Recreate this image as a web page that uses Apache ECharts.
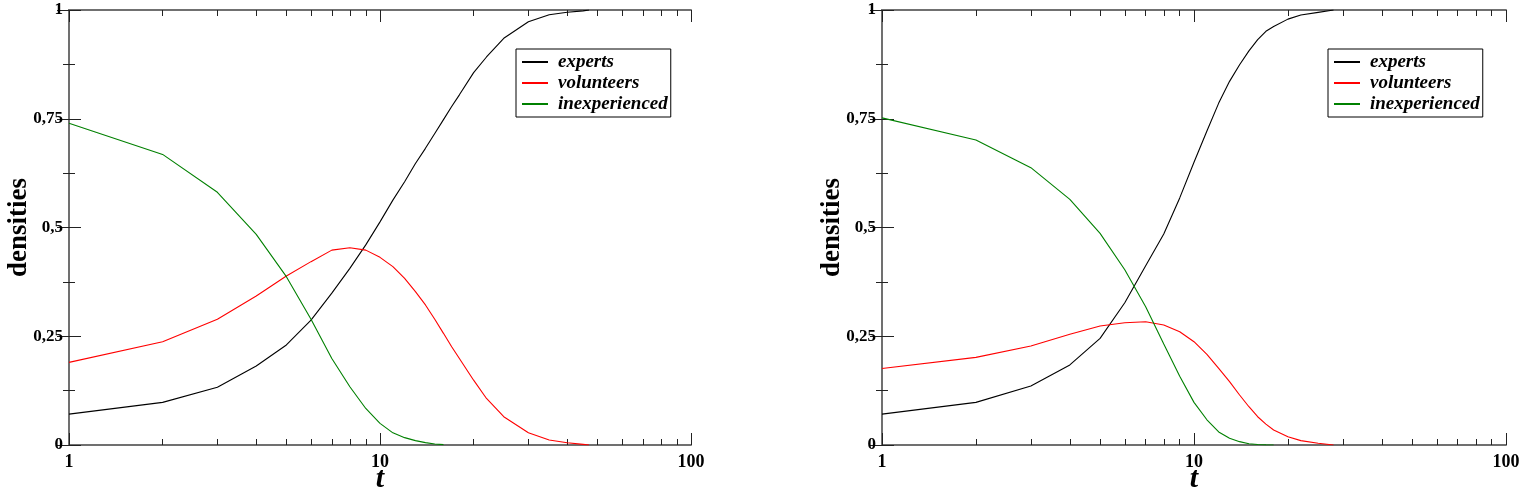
<!DOCTYPE html>
<html>
<head>
<meta charset="utf-8">
<script src="https://cdn.jsdelivr.net/npm/echarts@6/dist/echarts.min.js"></script>
<style>
html,body{margin:0;padding:0;background:#fff;}
#chart{width:1526px;height:491px;}
</style>
</head>
<body>
<div id="chart"></div>
<script>
// ---- data ----
const seriesNames = ['experts', 'volunteers', 'inexperienced'];
const seriesColors = ['#000000', '#ff0000', '#008000'];
const xMajorTicks = [1, 10, 100];
const xMinorTicks = [2, 3, 4, 5, 6, 7, 8, 9, 20, 30, 40, 50, 60, 70, 80, 90];
const yTicks = [0, 0.25, 0.5, 0.75, 1];

// left panel
const tLeft = [1, 2, 3, 4, 5, 6, 7, 8, 9, 10, 11, 12, 13, 14, 15, 16, 17, 18, 20, 22, 25, 30, 35, 40, 45, 47];
const expertsLeft = [0.071, 0.098, 0.1326, 0.1816, 0.23, 0.287, 0.349, 0.406, 0.46, 0.513, 0.563, 0.605, 0.647, 0.682, 0.716, 0.748, 0.778, 0.805, 0.856, 0.892, 0.935, 0.973, 0.989, 0.995, 0.998, 1.0];
const volunteersLeft = [0.19, 0.2375, 0.289, 0.3425, 0.3885, 0.4215, 0.448, 0.4536, 0.448, 0.4314, 0.41, 0.383, 0.3525, 0.322, 0.289, 0.2567, 0.226, 0.199, 0.149, 0.107, 0.065, 0.028, 0.0115, 0.005, 0.0015, 0.0];
const tLeftGreen = [1, 2, 3, 4, 5, 6, 7, 8, 9, 10, 11, 12, 13, 14, 15, 16];
const inexperiencedLeft = [0.7395, 0.668, 0.581, 0.4843, 0.387, 0.289, 0.199, 0.134, 0.084, 0.0498, 0.028, 0.0169, 0.01, 0.0054, 0.0023, 0.0008];

// right panel
const tRight = [1, 2, 3, 4, 5, 6, 7, 8, 9, 10, 11, 12, 13, 14, 15, 16, 17, 18, 20, 22, 25, 28];
const expertsRight = [0.071, 0.098, 0.1356, 0.184, 0.245, 0.327, 0.412, 0.485, 0.568, 0.65, 0.722, 0.786, 0.836, 0.874, 0.906, 0.932, 0.951, 0.962, 0.979, 0.9885, 0.9946, 1.0];
const volunteersRight = [0.176, 0.2015, 0.2276, 0.2544, 0.2736, 0.281, 0.2835, 0.276, 0.2605, 0.2375, 0.2084, 0.176, 0.1456, 0.115, 0.088, 0.065, 0.048, 0.0345, 0.019, 0.01, 0.004, 0.0];
const tRightGreen = [1, 2, 3, 4, 5, 6, 7, 8, 9, 10, 11, 12, 13, 14, 15, 16, 17, 18];
const inexperiencedRight = [0.752, 0.701, 0.6375, 0.5648, 0.4866, 0.403, 0.318, 0.232, 0.158, 0.098, 0.058, 0.03, 0.0153, 0.0077, 0.003, 0.0012, 0.0004, 0.0];

// ---- build options ----
const FONT = '"Liberation Serif", "DejaVu Serif", serif';
const AXIS_COLOR = '#707070';
const TICK_COLOR = '#222';

function pairs(xs, ys) { return xs.map((x, i) => [x, ys[i]]); }

const grids = [
  { left: 69, top: 10, width: 622, height: 435, containLabel: false, outerBoundsMode: 'none' },
  { left: 882, top: 10, width: 624, height: 435, containLabel: false, outerBoundsMode: 'none' }
];

// minor tick positions expressed on a helper linear axis running over log10(t) in [0, 2]
const xMinorTickExp = xMinorTicks.map(v => Math.log10(v));

const xAxes = [];
const yAxes = [];
grids.forEach((g, gi) => {
  const logBase = {
    type: 'log', logBase: 10, min: 1, max: 100, gridIndex: gi,
    axisLine: { show: true, lineStyle: { color: AXIS_COLOR, width: 2 } },
    splitLine: { show: false }, minorTick: { show: false }
  };
  const helper = {
    type: 'value', min: 0, max: 2, interval: 1, gridIndex: gi,
    axisLine: { show: false }, splitLine: { show: false }, minorTick: { show: false },
    axisLabel: { show: false },
    axisTick: { show: true, inside: true, length: 6, customValues: xMinorTickExp, lineStyle: { color: TICK_COLOR, width: 1 } }
  };
  // bottom major (labels)
  xAxes.push(Object.assign({}, logBase, {
    position: 'bottom',
    name: 't', nameLocation: 'middle', nameGap: 19, nameMoveOverlap: false,
    nameTextStyle: { fontFamily: FONT, fontWeight: 'bold', fontStyle: 'italic', fontSize: 30, color: '#000' },
    axisTick: { show: true, inside: true, length: 12, lineStyle: { color: TICK_COLOR, width: 1 } },
    axisLabel: { show: true, margin: 8, fontFamily: FONT, fontWeight: 'bold', fontSize: 18, color: '#000' }
  }));
  xAxes.push(Object.assign({}, helper, { position: 'bottom' }));
  // top major
  xAxes.push(Object.assign({}, logBase, {
    position: 'top',
    axisTick: { show: true, inside: true, length: 12, lineStyle: { color: TICK_COLOR, width: 1 } },
    axisLabel: { show: false }
  }));
  xAxes.push(Object.assign({}, helper, { position: 'top' }));

  const ybase = {
    type: 'value', min: 0, max: 1, interval: 0.25, gridIndex: gi,
    axisLine: { show: true, lineStyle: { color: AXIS_COLOR, width: 2 } },
    axisTick: { show: true, inside: true, length: 12, lineStyle: { color: TICK_COLOR, width: 1 } },
    minorTick: { show: true, splitNumber: 2, length: 6, lineStyle: { color: TICK_COLOR, width: 1 } },
    splitLine: { show: false }, minorSplitLine: { show: false }
  };
  yAxes.push(Object.assign({}, ybase, {
    position: 'left',
    name: 'densities', nameLocation: 'middle', nameGap: 36, nameMoveOverlap: false,
    nameTextStyle: { fontFamily: FONT, fontWeight: 'bold', fontSize: 27, color: '#000' },
    axisLabel: {
      show: true, margin: 6, fontFamily: FONT, fontWeight: 'bold', fontSize: 17, color: '#000',
      customValues: yTicks,
      formatter: v => String(v).replace('.', ',')
    }
  }));
  yAxes.push(Object.assign({}, ybase, {
    position: 'right', axisLabel: { show: false }
  }));
});

function lineSeries(name, color, data, gi) {
  return {
    type: 'line', name: name, data: data,
    xAxisIndex: gi * 4, yAxisIndex: gi * 2,
    showSymbol: false, symbol: 'none', smooth: false,
    lineStyle: { color: color, width: 1.1 },
    itemStyle: { color: color },
    animation: false, silent: true
  };
}

const series = [
  lineSeries(seriesNames[0], seriesColors[0], pairs(tLeft, expertsLeft), 0),
  lineSeries(seriesNames[1], seriesColors[1], pairs(tLeft, volunteersLeft), 0),
  lineSeries(seriesNames[2], seriesColors[2], pairs(tLeftGreen, inexperiencedLeft), 0),
  lineSeries(seriesNames[0], seriesColors[0], pairs(tRight, expertsRight), 1),
  lineSeries(seriesNames[1], seriesColors[1], pairs(tRight, volunteersRight), 1),
  lineSeries(seriesNames[2], seriesColors[2], pairs(tRightGreen, inexperiencedRight), 1)
];

function legendAt(left) {
  return {
    data: seriesNames, orient: 'vertical', left: left, top: 49,
    backgroundColor: '#fff', borderColor: '#000', borderWidth: 1,
    padding: [3, 3, 3, 6], itemGap: 1, itemWidth: 26, itemHeight: 2, icon: 'rect',
    selectedMode: false,
    textStyle: { fontFamily: FONT, fontWeight: 'bold', fontStyle: 'italic', fontSize: 19, color: '#000', lineHeight: 20, padding: [0, 0, 0, 5] }
  };
}

const option = {
  animation: false,
  backgroundColor: '#fff',
  grid: grids,
  xAxis: xAxes,
  yAxis: yAxes,
  legend: [legendAt(516), legendAt(1328)],
  series: series
};

const chart = echarts.init(document.getElementById('chart'), null, { renderer: 'canvas' });
chart.setOption(option);
</script>
</body>
</html>
